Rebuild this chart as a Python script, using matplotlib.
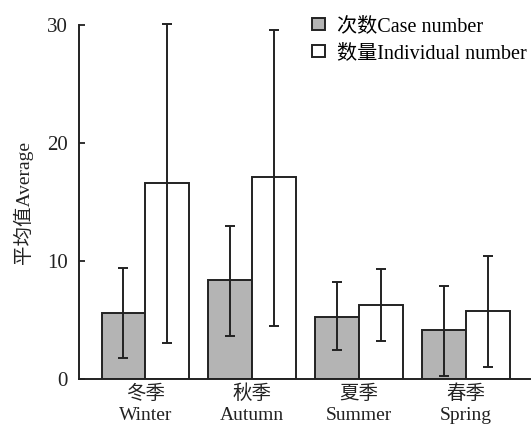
import numpy as np
import matplotlib.pyplot as plt

plt.rcParams['font.family'] = ['Liberation Serif', 'Noto Sans CJK SC']

seasons = ['冬季\nWinter', '秋季\nAutumn', '夏季\nSummer', '春季\nSpring']
case_mean = [5.65, 8.4, 5.3, 4.15]
case_low = [1.8, 3.7, 2.5, 0.3]
case_high = [9.4, 13.0, 8.2, 7.9]
ind_mean = [16.6, 17.1, 6.3, 5.75]
ind_low = [3.05, 4.5, 3.2, 1.0]
ind_high = [30.1, 29.6, 9.3, 10.4]

x = np.arange(len(seasons))
w = 0.41

fig = plt.figure(figsize=(5.31, 4.30), dpi=100)
ax = fig.add_axes([0.149, 0.118, 0.849, 0.824])

case_err = [np.subtract(case_mean, case_low), np.subtract(case_high, case_mean)]
ind_err = [np.subtract(ind_mean, ind_low), np.subtract(ind_high, ind_mean)]

ax.bar(x - w / 2, case_mean, w, color='#b4b4b4', edgecolor='#222222', linewidth=1.4,
       label='次数Case number')
ax.bar(x + w / 2, ind_mean, w, color='white', edgecolor='#222222', linewidth=1.4,
       label='数量Individual number')
ax.errorbar(x - w / 2, case_mean, yerr=case_err, fmt='none', ecolor='#222222',
            elinewidth=1.4, capsize=3.5, capthick=1.4, clip_on=False)
ax.errorbar(x + w / 2, ind_mean, yerr=ind_err, fmt='none', ecolor='#222222',
            elinewidth=1.4, capsize=3.5, capthick=1.4, clip_on=False)

ax.set_xlim(-0.62, 3.6)
ax.set_ylim(0, 30)
ax.set_yticks([0, 10, 20, 30])
ax.set_xticks(x)
ax.set_xticklabels(seasons, fontsize=14, linespacing=1.3, color='#222222')
ax.tick_params(axis='x', length=0, pad=4)
ax.tick_params(axis='y', direction='in', length=4, width=1.3, labelsize=15,
               pad=8, colors='#222222')
for s in ['top', 'right']:
    ax.spines[s].set_visible(False)
for s in ['left', 'bottom']:
    ax.spines[s].set_linewidth(1.4)
    ax.spines[s].set_color('#222222')
ax.set_ylabel('平均值Average', fontsize=14, color='#222222', labelpad=10)

ax.legend(loc='upper right', bbox_to_anchor=(1.01, 1.045), frameon=False,
          fontsize=14.5, handlelength=0.6, handleheight=0.6, handletextpad=0.6,
          labelspacing=0.4, borderaxespad=0)

fig.savefig('out.png', dpi=100)
